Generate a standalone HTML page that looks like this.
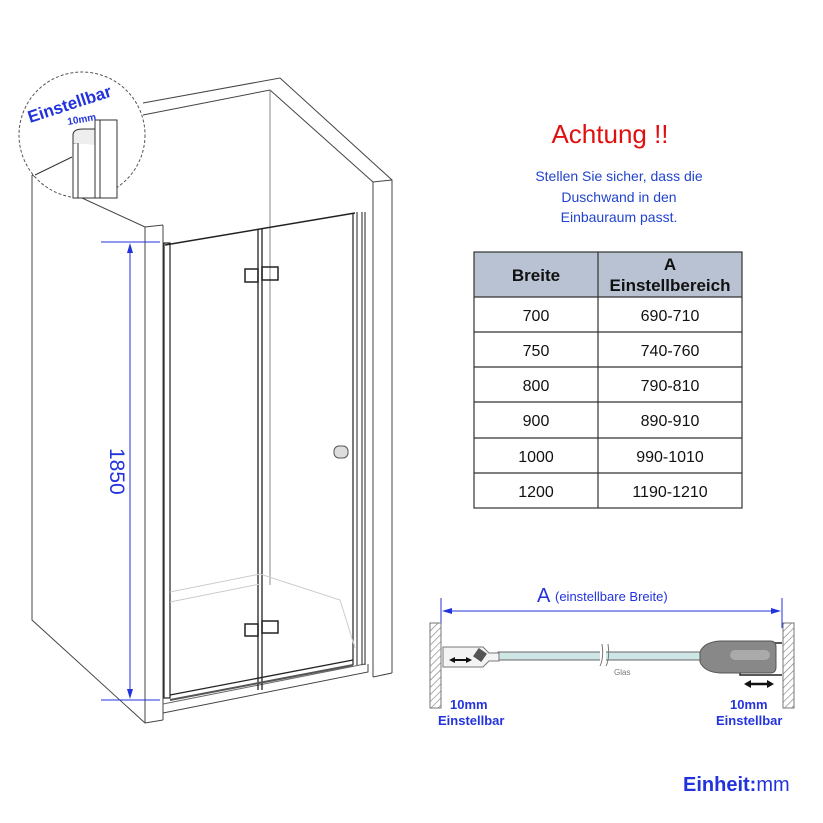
<!DOCTYPE html>
<html><head><meta charset="utf-8"><style>
body{margin:0;background:#fff}
svg{display:block}
text{font-family:"Liberation Sans",sans-serif}
</style></head><body>
<svg width="823" height="823" viewBox="0 0 823 823" xmlns="http://www.w3.org/2000/svg">
<defs>
<pattern id="h" width="5" height="5" patternUnits="userSpaceOnUse" patternTransform="rotate(45)"><line x1="0" y1="0" x2="0" y2="5" stroke="#777" stroke-width="1.2"/></pattern>
</defs>
<g fill="none" stroke="#444" stroke-width="1">
<!-- left wall -->
<polyline points="32,175 32,620 145,723 163,720"/>
<line x1="32" y1="175" x2="145" y2="227"/>
<line x1="145" y1="227" x2="163" y2="225"/>
<line x1="145" y1="227" x2="145" y2="723"/>
<line x1="163" y1="225" x2="163" y2="720"/>
<!-- back wall -->
<polyline points="143,103 280,78 392,180 392,673"/>
<polyline points="143,115 270,90 373,182"/>
<line x1="270" y1="90" x2="270" y2="585" stroke="#888"/>
<line x1="373" y1="182" x2="392" y2="180"/>
<line x1="373" y1="182" x2="373" y2="677"/>
<line x1="373" y1="677" x2="392" y2="673"/>
<!-- floor -->
<polyline points="163,713 368,672 368,664"/>
<polyline points="163,704 365,664" stroke="#666"/>
</g>
<!-- door -->
<g fill="none" stroke="#222">
<line x1="165" y1="245" x2="355" y2="213" stroke-width="1.5"/>
<rect x="164" y="243" width="6" height="455" stroke-width="1.2"/>
<line x1="353" y1="213" x2="353" y2="665" stroke-width="1.2"/>
<line x1="357" y1="212" x2="357" y2="665" stroke-width="1"/>
<line x1="362" y1="212" x2="362" y2="665" stroke-width="1"/>
<line x1="365" y1="212" x2="365" y2="665" stroke-width="1"/>
<line x1="258" y1="229" x2="258" y2="690" stroke-width="1.3"/>
<line x1="262" y1="229" x2="262" y2="690" stroke-width="1.3"/>
<line x1="170" y1="695" x2="353" y2="660" stroke-width="1.3"/>
<line x1="170" y1="700" x2="353" y2="665" stroke-width="2" stroke="#555"/>
<rect x="245" y="269" width="13" height="13" stroke-width="1.5"/>
<rect x="262" y="267" width="16" height="13" stroke-width="1.5"/>
<rect x="245" y="624" width="13" height="12" stroke-width="1.5"/>
<rect x="262" y="621" width="16" height="12" stroke-width="1.5"/>
<rect x="334" y="446" width="14" height="12" rx="5" stroke="#555" fill="#ddd"/>
</g>
<g fill="none" stroke="#ccc">
<polyline points="170,592 260,574 340,600 355,648"/>
<polyline points="170,602 260,584"/>
</g>
<!-- dimension 1850 -->
<g stroke="#2233dd" stroke-width="1">
<line x1="101" y1="242" x2="160" y2="242"/>
<line x1="101" y1="700" x2="160" y2="700"/>
<line x1="130" y1="248" x2="130" y2="694"/>
</g>
<polygon points="130,243 127,253 133,253" fill="#2233dd"/>
<polygon points="130,699 127,689 133,689" fill="#2233dd"/>
<text transform="translate(110,448) rotate(90)" font-size="21" fill="#2233dd">1850</text>
<!-- inset circle -->
<circle cx="82" cy="135" r="63" fill="#fff" stroke="#555" stroke-dasharray="3,2"/>
<g fill="none" stroke="#333">
<line x1="35" y1="175" x2="72" y2="157"/>
<rect x="73" y="143" width="22" height="55" fill="#fff"/>
<path d="M73,143 v-8 q0,-6 10,-6 h12 v16" fill="#eee"/>
<rect x="95" y="120" width="22" height="78" fill="#fff"/>
<line x1="100" y1="120" x2="100" y2="198"/>
<line x1="78" y1="143" x2="78" y2="198"/>
</g>
<text transform="translate(30,123) rotate(-18)" font-size="17" font-weight="bold" fill="#2233dd">Einstellbar</text>
<text transform="translate(68,125) rotate(-10)" font-size="10" font-weight="bold" fill="#2233dd">10mm</text>
<!-- right text -->
<text x="610" y="143" text-anchor="middle" font-size="26" fill="#e01010">Achtung !!</text>
<g font-size="14" fill="#2244cc" text-anchor="middle">
<text x="619" y="181">Stellen Sie sicher, dass die</text>
<text x="619" y="202">Duschwand in den</text>
<text x="619" y="222">Einbauraum passt.</text>
</g>
<!-- table -->
<rect x="474" y="252" width="268" height="45" fill="#b8c2d2"/>
<g stroke="#333" stroke-width="1.2" fill="none">
<rect x="474" y="252" width="268" height="256"/>
<line x1="598" y1="252" x2="598" y2="508"/>
<line x1="474" y1="297" x2="742" y2="297"/>
<line x1="474" y1="332" x2="742" y2="332"/>
<line x1="474" y1="367" x2="742" y2="367"/>
<line x1="474" y1="402" x2="742" y2="402"/>
<line x1="474" y1="438" x2="742" y2="438"/>
<line x1="474" y1="473" x2="742" y2="473"/>
</g>
<g font-size="17" fill="#111" text-anchor="middle" font-weight="bold">
<text x="536" y="281">Breite</text>
<text x="670" y="270">A</text>
<text x="670" y="291">Einstellbereich</text>
</g>
<g font-size="16" fill="#111" text-anchor="middle">
<text x="536" y="321">700</text><text x="670" y="321">690-710</text>
<text x="536" y="356">750</text><text x="670" y="356">740-760</text>
<text x="536" y="391">800</text><text x="670" y="391">790-810</text>
<text x="536" y="426">900</text><text x="670" y="426">890-910</text>
<text x="536" y="462">1000</text><text x="670" y="462">990-1010</text>
<text x="536" y="497">1200</text><text x="670" y="497">1190-1210</text>
</g>
<!-- bottom diagram -->
<g stroke="#2233dd">
<line x1="441" y1="598" x2="441" y2="628"/>
<line x1="782" y1="598" x2="782" y2="628"/>
<line x1="446" y1="611" x2="777" y2="611"/>
</g>
<polygon points="442,611 452,608 452,614" fill="#2233dd"/>
<polygon points="781,611 771,608 771,614" fill="#2233dd"/>
<text x="537" y="602" font-size="20" fill="#2233dd">A</text>
<text x="555" y="601" font-size="13" fill="#2233dd">(einstellbare Breite)</text>
<rect x="430" y="623" width="11" height="85" fill="url(#h)" stroke="#777"/>
<rect x="783" y="623" width="11" height="85" fill="url(#h)" stroke="#777"/>
<rect x="498" y="652" width="205" height="8" fill="#cfe6e6" stroke="#666"/>
<rect x="600" y="648" width="6" height="16" fill="#fff"/>
<path d="M600,666 q4,-8 2,-22 M606,666 q4,-8 2,-22" stroke="#777" fill="none"/>
<text x="614" y="675" font-size="8" fill="#777">Glas</text>
<path d="M443,647 h40 l6,6 h10 v8 h-10 l-6,6 h-40 z" fill="#f4f4f4" stroke="#777"/>
<rect x="475" y="650" width="10" height="10" fill="#555" transform="rotate(35 480 655)"/>
<line x1="451" y1="660" x2="470" y2="660" stroke="#111" stroke-width="2"/>
<path d="M782,643 h-42 v32 h42" fill="none" stroke="#222" stroke-width="1.5"/>
<path d="M700,652 q4,-10 20,-11 h50 q6,0 6,6 v20 q0,6 -6,6 h-50 q-16,-1 -20,-11 z" fill="#888" stroke="#555"/>
<rect x="730" y="650" width="40" height="10" rx="5" fill="#aaa"/>
<line x1="746" y1="684" x2="772" y2="684" stroke="#111" stroke-width="2.5"/>
<polygon points="744,684 751,680 751,688" fill="#111"/>
<polygon points="774,684 767,680 767,688" fill="#111"/>
<polygon points="449,660 455,657 455,663" fill="#111"/>
<polygon points="472,660 466,657 466,663" fill="#111"/>
<g font-size="13" font-weight="bold" fill="#2233dd">
<text x="450" y="709">10mm</text>
<text x="438" y="725">Einstellbar</text>
<text x="730" y="709">10mm</text>
<text x="716" y="725">Einstellbar</text>
</g>
<text x="683" y="791" font-size="20" fill="#2233dd"><tspan font-weight="bold">Einheit:</tspan>mm</text>
</svg>
</body></html>
